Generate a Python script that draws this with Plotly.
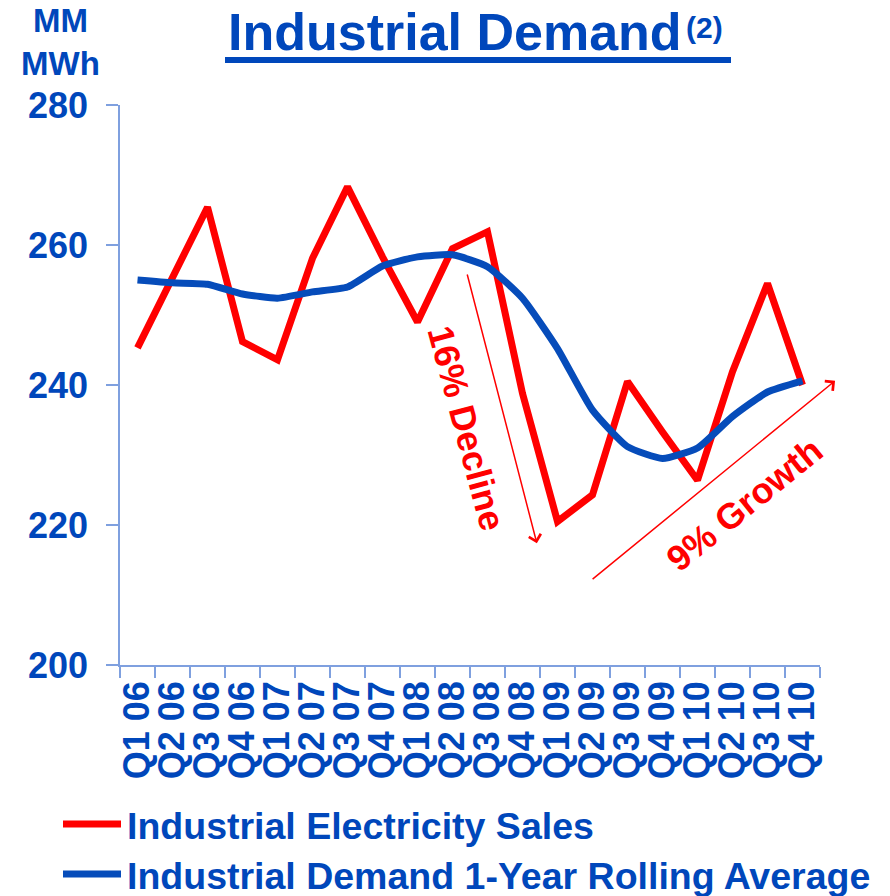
import plotly.graph_objects as go

categories = ["Q1 06", "Q2 06", "Q3 06", "Q4 06", "Q1 07", "Q2 07", "Q3 07", "Q4 07",
              "Q1 08", "Q2 08", "Q3 08", "Q4 08", "Q1 09", "Q2 09", "Q3 09", "Q4 09",
              "Q1 10", "Q2 10", "Q3 10", "Q4 10"]
sales = [245.3, 255.5, 265.4, 246.2, 243.6, 258.1, 268.3, 258.3,
         249.0, 259.5, 261.9, 238.8, 220.5, 224.3, 240.5, 233.3,
         226.4, 241.9, 254.5, 240.0]
rolling = [255.0, 254.6, 254.4, 253.0, 252.4, 253.3, 254.0, 257.0,
           258.3, 258.6, 256.9, 252.4, 245.2, 236.4, 231.2, 229.5,
           231.0, 235.5, 239.0, 240.6]
y_ticks = [200, 220, 240, 260, 280]

RED = "#FF0000"
BLUE_TXT = "#0047BB"
BLUE_LINE = "#064CBA"
AXIS = "#7FA0DF"
FONT = "Liberation Sans, Arial, sans-serif"

fig = go.Figure()
fig.add_trace(go.Scatter(x=categories, y=sales, mode="lines", name="Industrial Electricity Sales",
                         line=dict(color=RED, width=7), showlegend=False))
fig.add_trace(go.Scatter(x=categories, y=rolling, mode="lines",
                         name="Industrial Demand 1-Year Rolling Average",
                         line=dict(color=BLUE_LINE, width=7, shape="spline", smoothing=0.5),
                         showlegend=False))

W, H = 890, 896
L, R, T, B = 120, 70, 105, 231
pw, ph = W - L - R, H - T - B


def px(xp):
    return (xp - L) / pw


def py(yp):
    return (H - B - yp) / ph


def txt(text, x, y, size, color=BLUE_TXT, xanchor="center", angle=0):
    return dict(text=text, x=px(x), y=py(y), xref="paper", yref="paper",
                xanchor=xanchor, yanchor="middle", showarrow=False, textangle=angle,
                font=dict(family=FONT, size=size, color=color, weight="bold"))


annotations = [
    txt("Industrial Demand", 226, 32, 52, xanchor="left"),
    txt("(2)", 684, 27, 30, xanchor="left"),
    txt("MM<br>MWh", 60, 42, 33),
    txt("16% Decline", 467, 428, 36, color=RED, angle=75),
    txt("9% Growth", 744, 504, 36, color=RED, angle=-39),
    # legend text
    txt("Industrial Electricity Sales", 125, 826, 37.5, xanchor="left"),
    txt("Industrial Demand 1-Year Rolling Average", 125, 876, 37.5, xanchor="left"),
    # arrows
    dict(x=11.41, y=217.4, ax=9.41, ay=256.0, xref="x", yref="y", axref="x", ayref="y",
         text="", showarrow=True, arrowhead=4, arrowsize=1.6, arrowwidth=1.5, arrowcolor=RED),
    dict(x=19.93, y=240.6, ax=12.96, ay=212.1, xref="x", yref="y", axref="x", ayref="y",
         text="", showarrow=True, arrowhead=4, arrowsize=1.6, arrowwidth=1.5, arrowcolor=RED),
]

shapes = [
    dict(type="line", xref="paper", yref="paper", x0=px(225), x1=px(731), y0=py(60), y1=py(60),
         line=dict(color=BLUE_TXT, width=6)),
    dict(type="line", xref="paper", yref="paper", x0=px(63), x1=px(121), y0=py(824), y1=py(824),
         line=dict(color=RED, width=7)),
    dict(type="line", xref="paper", yref="paper", x0=px(63), x1=px(121), y0=py(874), y1=py(874),
         line=dict(color=BLUE_LINE, width=7)),
]

fig.update_layout(
    width=W, height=H,
    margin=dict(l=L, r=R, t=T, b=B, pad=0),
    paper_bgcolor="white", plot_bgcolor="white",
    annotations=annotations, shapes=shapes,
    font=dict(family=FONT, color=BLUE_TXT),
)
fig.update_xaxes(type="category", range=[-0.5, len(categories) - 0.5],
                 tickmode="linear", tick0=0, dtick=1,
                 tickangle=-90, tickson="boundaries", ticks="outside",
                 ticklen=11, tickcolor=AXIS, tickwidth=1.5, showline=True, linecolor=AXIS,
                 linewidth=1.5, showgrid=False, zeroline=False,
                 tickfont=dict(family=FONT, size=36, color=BLUE_TXT, weight="bold"))
fig.update_yaxes(range=[200, 280], tickvals=y_ticks, ticks="outside", ticklen=12, tickcolor=AXIS,
                 tickwidth=1.5, showline=True, linecolor=AXIS, linewidth=1.5, showgrid=False,
                 zeroline=False, tickfont=dict(family=FONT, size=36, color=BLUE_TXT, weight="bold"),
                 ticklabelstandoff=11)

fig.write_html("out.html", config={"displayModeBar": False},
               post_script="document.body.style.margin='0';document.body.style.padding='0';")
